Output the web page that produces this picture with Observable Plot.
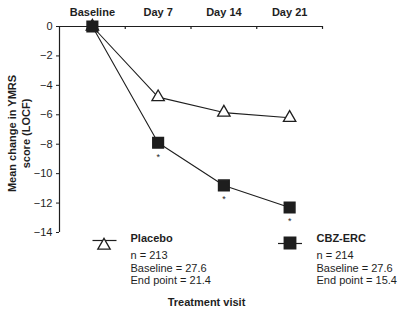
<!DOCTYPE html>
<html>
<head>
<meta charset="utf-8">
<script src="https://cdn.jsdelivr.net/npm/d3@7"></script>
<script src="https://cdn.jsdelivr.net/npm/@observablehq/plot@0.6"></script>
<style>
  html, body { margin: 0; padding: 0; background: #fff; }
</style>
</head>
<body>
<div id="chart"></div>
<script>
const categories = ["Baseline", "Day 7", "Day 14", "Day 21"];
const placeboValues = [0, -4.8, -5.85, -6.2];
const cbzValues = [0, -7.9, -10.8, -12.3];
const cbzSignificant = [false, true, true, true];
const yTicks = [0, -2, -4, -6, -8, -10, -12, -14];
const placeboLegend = ["n = 213", "Baseline = 27.6", "End point = 21.4"];
const cbzLegend = ["n = 214", "Baseline = 27.6", "End point = 15.4"];

const placebo = categories.map((c, i) => ({i, cat: c, value: placeboValues[i]}));
const cbz = categories.map((c, i) => ({i, cat: c, value: cbzValues[i], sig: cbzSignificant[i]}));
const boundaries = categories.map((_, i) => i + 0.5);

const ink = "#1e1e1e";
const lineSymbol = {draw(ctx) { ctx.moveTo(-12, 0); ctx.lineTo(12, 0); }};

const chart = Plot.plot({
  width: 401,
  height: 314,
  marginLeft: 59,
  marginRight: 79,
  marginTop: 26,
  marginBottom: 82,
  x: {domain: [-0.5, categories.length - 0.5], axis: null},
  y: {domain: [-14, 0], axis: null},
  style: {fontFamily: "'Liberation Sans', Arial, sans-serif", fontSize: "11px", color: ink, background: "#fff"},
  marks: [
    Plot.axisY({ticks: yTicks, tickSize: 3, tickPadding: 4, label: null, fontSize: 11, stroke: ink}),
    Plot.ruleX([-0.5], {y1: -14, y2: 0, stroke: ink, strokeWidth: 1.2}),
    Plot.ruleY([0], {x1: -0.5, x2: categories.length - 0.5, stroke: ink, strokeWidth: 1.2}),
    Plot.ruleX(boundaries, {y1: 0, y2: -0.2, stroke: ink, strokeWidth: 1.2}),
    Plot.axisX({anchor: "top", ticks: categories.map((_, i) => i), tickFormat: i => categories[i],
      tickSize: 0, tickPadding: 11, label: null, fontWeight: "bold", fontSize: 11}),
    Plot.line(placebo, {x: "i", y: "value", stroke: ink, strokeWidth: 1.1}),
    Plot.line(cbz, {x: "i", y: "value", stroke: ink, strokeWidth: 1.1}),
    Plot.dot(placebo, {x: "i", y: "value", symbol: "triangle", r: 4.6, fill: "white", stroke: ink, strokeWidth: 1.3}),
    Plot.dot(cbz, {x: "i", y: "value", symbol: "square", r: 6, fill: ink, stroke: ink}),
    Plot.text(cbz.filter(d => d.sig), {x: "i", y: "value", text: () => "*", dy: 14, fontSize: 9}),
    // legend: placebo
    Plot.dot([0], {frameAnchor: "bottom-left", dx: 45, dy: 8, symbol: lineSymbol, r: 1, stroke: ink, strokeWidth: 1.2}),
    Plot.dot([0], {frameAnchor: "bottom-left", dx: 44.5, dy: 13, symbol: "triangle", r: 4.6, fill: "white", stroke: ink, strokeWidth: 1.3}),
    Plot.text(["Placebo"], {frameAnchor: "bottom-left", dx: 71, dy: 9, text: d => d, textAnchor: "start", fontWeight: "bold", fontSize: 11}),
    Plot.text([placeboLegend.join("\n")], {frameAnchor: "bottom-left", dx: 71, dy: 35, text: d => d, textAnchor: "start", lineAnchor: "middle", lineHeight: 1.15, fontSize: 11}),
    // legend: CBZ-ERC
    Plot.dot([0], {frameAnchor: "bottom-left", dx: 230.5, dy: 11, symbol: lineSymbol, r: 1, stroke: ink, strokeWidth: 1.2}),
    Plot.dot([0], {frameAnchor: "bottom-left", dx: 230.5, dy: 10.5, symbol: "square", r: 6.4, fill: ink, stroke: ink}),
    Plot.text(["CBZ-ERC"], {frameAnchor: "bottom-left", dx: 257, dy: 9, text: d => d, textAnchor: "start", fontWeight: "bold", fontSize: 11}),
    Plot.text([cbzLegend.join("\n")], {frameAnchor: "bottom-left", dx: 257, dy: 35, text: d => d, textAnchor: "start", lineAnchor: "middle", lineHeight: 1.15, fontSize: 11}),
    // axis titles
    Plot.text(["Treatment visit"], {frameAnchor: "bottom", dx: 15.5, dy: 73, text: d => d, textAnchor: "middle", fontWeight: "bold", fontSize: 11}),
    Plot.text(["Mean change in YMRS"], {frameAnchor: "left", dx: -47, dy: 4, rotate: -90, text: d => d, textAnchor: "middle", fontWeight: "bold", fontSize: 11}),
    Plot.text(["score (LOCF)"], {frameAnchor: "left", dx: -33, dy: 4, rotate: -90, text: d => d, textAnchor: "middle", fontWeight: "bold", fontSize: 11})
  ]
});
document.getElementById("chart").appendChild(chart);
</script>
</body>
</html>
